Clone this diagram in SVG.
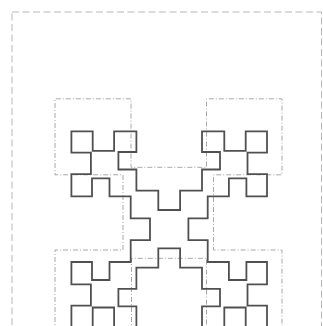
<svg xmlns="http://www.w3.org/2000/svg" width="323" height="326" viewBox="0 0 323 326">
<style>
.frame{fill:none;stroke:#b8b8b8;stroke-width:1;stroke-dasharray:7 3.5}
.block{fill:none;stroke:#a8a8a8;stroke-width:1;stroke-dasharray:5 2 1 2}
.curve{fill:none;stroke:#505050;stroke-width:1.8;stroke-linejoin:miter}
</style>
<rect width="323" height="326" fill="#ffffff"/>
<g id="frame">
<rect class="frame" x="12" y="12" width="309.5" height="330"/>
</g>
<g id="blocks">
<polyline class="block" points="55,332 55,250 123,250 123,174.8 55,174.8 55,98.8 131,98.8 131,167.3 206.5,167.3 206.5,98.8 282,98.8 282,174.8 213.5,174.8 213.5,250 282,250 282,332"/>
<polyline class="block" points="131.5,332 131.5,258.3 206.5,258.3 206.5,332"/>
</g>
<g id="curve">
<polygon class="curve" points="169.2,210 158.3,210 158.3,190.7 136.4,190.7 136.4,169.5 118.4,169.5 118.4,152 136.4,152 136.4,131.4 114.1,131.4 114.1,150.9 92.7,150.9 92.7,131.4 71.4,131.4 71.4,152.7 90.9,152.7 90.9,174.1 71.4,174.1 71.4,196.4 92,196.4 92,178.4 109.5,178.4 109.5,196.4 130.7,196.4 130.7,218.3 150,218.3 150,240.1 130.7,240.1 130.7,262 109.5,262 109.5,280 92,280 92,262 71.4,262 71.4,284.3 90.9,284.3 90.9,305.7 71.4,305.7 71.4,327 92.7,327 92.7,307.5 114.1,307.5 114.1,327 136.4,327 136.4,306.4 118.4,306.4 118.4,288.9 136.4,288.9 136.4,267.7 158.3,267.7 158.3,248.4 180.1,248.4 180.1,267.7 202,267.7 202,288.9 220,288.9 220,306.4 202,306.4 202,327 224.3,327 224.3,307.5 245.7,307.5 245.7,327 267,327 267,305.7 247.5,305.7 247.5,284.3 267,284.3 267,262 246.4,262 246.4,280 228.9,280 228.9,262 207.7,262 207.7,240.1 188.4,240.1 188.4,218.3 207.7,218.3 207.7,196.4 228.9,196.4 228.9,178.4 246.4,178.4 246.4,196.4 267,196.4 267,174.1 247.5,174.1 247.5,152.7 267,152.7 267,131.4 245.7,131.4 245.7,150.9 224.3,150.9 224.3,131.4 202,131.4 202,152 220,152 220,169.5 202,169.5 202,190.7 180.1,190.7 180.1,210"/>
</g>
</svg>
